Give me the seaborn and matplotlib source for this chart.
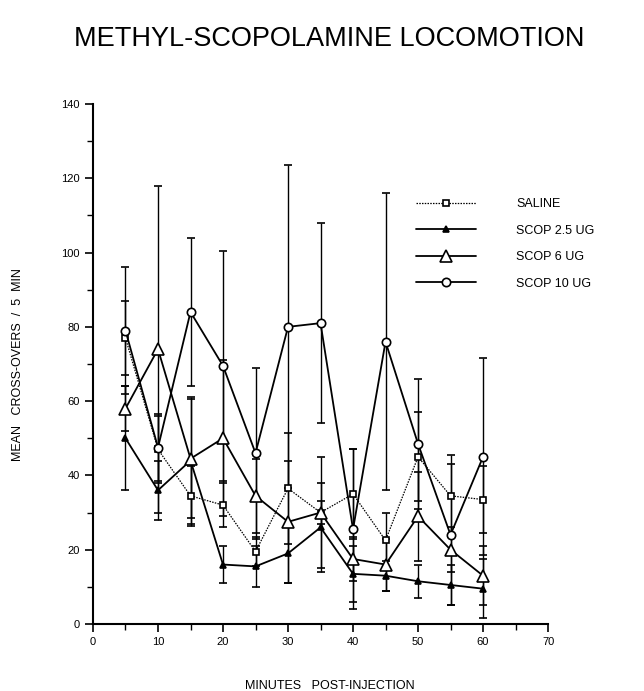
import matplotlib
matplotlib.use("Agg")
import matplotlib.pyplot as plt
import seaborn as sns
import pandas as pd
import numpy as np
from matplotlib.ticker import MultipleLocator
from matplotlib.lines import Line2D

minutes = [5, 10, 15, 20, 25, 30, 35, 40, 45, 50, 55, 60]
series_names = ["SALINE", "SCOP 2.5 UG", "SCOP 6 UG", "SCOP 10 UG"]
saline = [77, 47, 34.5, 32, 19.5, 36.5, 30, 35, 22.5, 45, 34.5, 33.5]
scop25 = [50, 36, 44, 16, 15.5, 19, 26, 13.5, 13, 11.5, 10.5, 9.5]
scop6 = [58, 74, 44.5, 50, 34.5, 27.5, 30, 17.5, 16, 29, 20, 13]
scop10 = [79, 47.5, 84, 69.5, 46, 80, 81, 25.5, 76, 48.5, 24, 45]
saline_err = [10, 9, 8, 6, 4, 15, 15, 12, 7.5, 12, 11, 9]
scop25_err = [14, 8, 17, 5, 5.5, 8, 12, 7.5, 4, 4.5, 5.5, 8]
scop6_err = [6, 44, 16, 21, 10, 16.5, 3, 6, 7, 12, 6, 8]
scop10_err = [17, 9, 20, 31, 23, 43.5, 27, 21.5, 40, 17.5, 19, 26.5]

sns.set_theme(style="ticks")
plt.rcParams['font.family'] = ['Liberation Sans', 'DejaVu Sans']
plt.rcParams['text.color'] = 'black'

rows = []
for name, vals in zip(series_names, [saline, scop25, scop6, scop10]):
    for m, v in zip(minutes, vals):
        rows.append({"minutes": m, "value": v, "group": name})
df = pd.DataFrame(rows)

fig = plt.figure(figsize=(6.44, 6.91), dpi=100)
ax = fig.add_axes([0.1444, 0.097, 0.7066, 0.7525])

styles = {
    "SALINE": dict(ls=(0, (1.2, 1)), marker="s", mfc="white", ms=5, lw=0.9),
    "SCOP 2.5 UG": dict(ls="-", marker="^", mfc="black", ms=5, lw=1.3),
    "SCOP 6 UG": dict(ls="-", marker="^", mfc="white", ms=9, lw=1.3),
    "SCOP 10 UG": dict(ls="-", marker="o", mfc="white", ms=6, lw=1.3),
}
errs = dict(zip(series_names, [saline_err, scop25_err, scop6_err, scop10_err]))

for name in series_names:
    sub = df[df.group == name]
    st = styles[name]
    ax.errorbar(sub.minutes, sub.value, yerr=errs[name], fmt="none",
                ecolor="black", elinewidth=1.0, capsize=3, capthick=1.2, zorder=2)
    sns.lineplot(data=sub, x="minutes", y="value", ax=ax, color="black",
                 linestyle=st["ls"], linewidth=st["lw"], marker=st["marker"],
                 markersize=st["ms"], markerfacecolor=st["mfc"],
                 markeredgecolor="black", markeredgewidth=1.2,
                 legend=False, zorder=3)

ax.set_xlim(0, 70)
ax.set_ylim(0, 140)
ax.xaxis.set_major_locator(MultipleLocator(10))
ax.xaxis.set_minor_locator(MultipleLocator(5))
ax.yaxis.set_major_locator(MultipleLocator(20))
ax.yaxis.set_minor_locator(MultipleLocator(10))
ax.tick_params(axis="both", which="major", length=6, width=1.2, labelsize=8, color="black", labelcolor="black", direction="out")
ax.tick_params(axis="both", which="minor", length=4, width=1.0, color="black", direction="out")
for s in ["left", "bottom"]:
    ax.spines[s].set_linewidth(1.5)
    ax.spines[s].set_color("black")
for s in ["top", "right"]:
    ax.spines[s].set_visible(False)
ax.set_xlabel("")
ax.set_ylabel("")

fig.text(0.512, 0.943, "METHYL-SCOPOLAMINE LOCOMOTION", ha="center", va="center", fontsize=19.5, color="black")
fig.text(0.512, 0.007, "MINUTES   POST-INJECTION", ha="center", va="center", fontsize=9, color="black")
fig.text(0.028, 0.472, "MEAN   CROSS-OVERS  /  5  MIN", ha="center", va="center", rotation=90, fontsize=9, color="black")

handles = []
for name in series_names:
    st = styles[name]
    handles.append(Line2D([], [], color="black", linestyle=st["ls"], linewidth=st["lw"],
                          marker=st["marker"], markersize=st["ms"], markerfacecolor=st["mfc"],
                          markeredgecolor="black", markeredgewidth=1.2))
ax.legend(handles, series_names, loc="upper left", bbox_to_anchor=(0.685, 0.84),
          frameon=False, fontsize=9, handlelength=4.8, labelspacing=1.15, handletextpad=3.2,
          labelcolor="black")

fig.savefig("out.png", dpi=100, facecolor="white")
